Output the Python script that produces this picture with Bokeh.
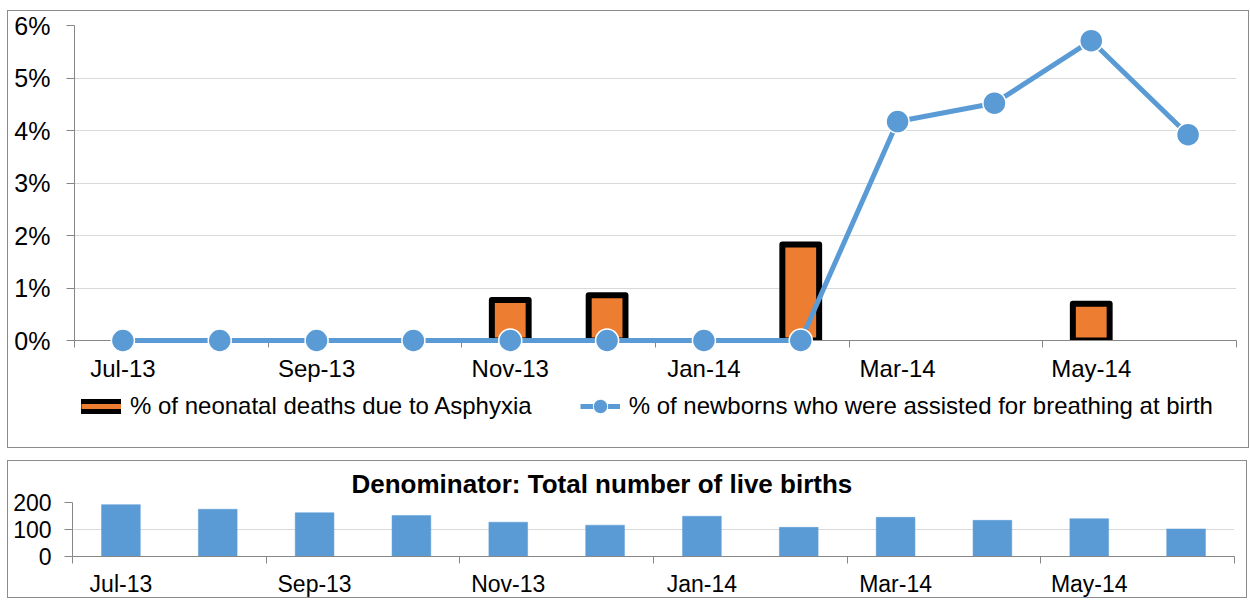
from bokeh.plotting import figure
from bokeh.models import (ColumnDataSource, Range1d, FixedTicker, NumeralTickFormatter,
                          Legend, LegendItem, Title)
from bokeh.layouts import column
from bokeh.embed import file_html
from bokeh.resources import INLINE

# ---------------- data ----------------
months = ["Jul-13", "Aug-13", "Sep-13", "Oct-13", "Nov-13", "Dec-13",
          "Jan-14", "Feb-14", "Mar-14", "Apr-14", "May-14", "Jun-14"]
asphyxia_pct = [None, None, None, None, 0.77, 0.86, None, 1.83, None, None, 0.70, None]
breathing_pct = [0, 0, 0, 0, 0, 0, 0, 0, 4.17, 4.52, 5.71, 3.92]
live_births = [192, 175, 162, 152, 127, 116, 149, 108, 145, 134, 140, 102]
pct_ticks = [0, 1, 2, 3, 4, 5, 6]
births_ticks = [0, 100, 200]

series1_name = "% of neonatal deaths due to Asphyxia"
series2_name = "% of newborns who were assisted for breathing at birth"
bottom_title = "Denominator: Total number of live births"

# ---------------- style ----------------
FONT = "Liberation Sans"
BLUE = "#5b9bd5"
ORANGE = "#ed7d31"
AXIS = "#868686"
GRID = "#d9d9d9"
BORDER = "#8c8c8c"
W = 1240

idx = list(range(len(months)))
src = ColumnDataSource(dict(
    x=idx,
    asph=[(v / 100.0) if v is not None else float("nan") for v in asphyxia_pct],
    breath=[v / 100.0 for v in breathing_pct],
    births=live_births,
))

label_ticks = idx[::2]
boundary_ticks = [i - 0.5 for i in idx[::2]] + [idx[-1] + 0.5]
x_overrides = {i: months[i] for i in label_ticks}


def style_x_axis(ax, standoff, size):
    ax.ticker = FixedTicker(ticks=label_ticks, minor_ticks=boundary_ticks)
    ax.major_label_overrides = x_overrides
    ax.axis_line_color = AXIS
    ax.major_tick_out = 0
    ax.major_tick_in = 0
    ax.minor_tick_out = 7
    ax.minor_tick_in = 0
    ax.minor_tick_line_color = AXIS
    ax.major_label_standoff = standoff
    ax.major_label_text_font = FONT
    ax.major_label_text_font_size = size
    ax.major_label_text_color = "black"


def style_y_axis(ax, ticks, standoff, size):
    ax.ticker = FixedTicker(ticks=ticks)
    ax.axis_line_color = AXIS
    ax.major_tick_line_color = AXIS
    ax.major_tick_out = 8
    ax.major_tick_in = 0
    ax.minor_tick_out = 0
    ax.minor_tick_in = 0
    ax.major_label_standoff = standoff
    ax.major_label_text_font = FONT
    ax.major_label_text_font_size = size
    ax.major_label_text_color = "black"


# ---------------- top chart ----------------
p1 = figure(width=W, height=374, x_range=Range1d(-0.5, len(months) - 0.5),
            y_range=Range1d(0, max(pct_ticks) / 100.0),
            output_backend="svg", toolbar_location=None,
            min_border_left=66, min_border_right=12, min_border_top=14, min_border_bottom=45)
p1.outline_line_color = None

bars = p1.vbar(x="x", top="asph", bottom=0, width=0.38, source=src,
               fill_color=ORANGE, line_color="black", line_width=6, line_join="round")
line = p1.line("x", "breath", source=src, line_color=BLUE, line_width=5, level="overlay")
pts = p1.scatter("x", "breath", source=src, size=23, fill_color=BLUE,
                 line_color="white", line_width=1.5, level="overlay")

style_y_axis(p1.yaxis[0], [v / 100.0 for v in pct_ticks], 16, "25px")
p1.yaxis[0].formatter = NumeralTickFormatter(format="0%")
style_x_axis(p1.xaxis[0], 7, "24px")
p1.xgrid.visible = False
p1.ygrid.grid_line_color = GRID

# ---------------- legend strip (part of the top panel) ----------------
# Same series drawn in a strip whose ranges keep them out of view, so that only
# their legend keys show.
LH = 62
pl = figure(width=W, height=LH, x_range=Range1d(100, 101), y_range=Range1d(100, 101),
            output_backend="svg", toolbar_location=None,
            x_axis_location=None, y_axis_location=None,
            min_border_left=0, min_border_right=0, min_border_top=0, min_border_bottom=0)
pl.outline_line_color = None
pl.grid.visible = False
sw_black = pl.line("x", "asph", source=src, line_color="black", line_width=15, line_cap="square")
sw_orange = pl.line("x", "asph", source=src, line_color=ORANGE, line_width=5)
sw_line = pl.line("x", "breath", source=src, line_color=BLUE, line_width=5)
sw_pts = pl.scatter("x", "breath", source=src, fill_color=BLUE, line_color="white", line_width=1)

leg = Legend(items=[LegendItem(label=series1_name, renderers=[sw_black, sw_orange]),
                    LegendItem(label=series2_name, renderers=[sw_line, sw_pts])],
             location=(7, 23), orientation="horizontal",
             glyph_width=40, glyph_height=36, label_standoff=9, spacing=48,
             padding=0, margin=0, border_line_alpha=0, background_fill_alpha=0,
             label_text_font=FONT, label_text_font_size="24px", label_text_color="black")
pl.add_layout(leg)

top_panel = column(p1, pl, spacing=0, styles={"border": f"1px solid {BORDER}"})

# ---------------- bottom chart ----------------
p2 = figure(width=W, height=138, x_range=Range1d(-0.5, len(months) - 0.5),
            y_range=Range1d(0, max(births_ticks)),
            output_backend="svg", toolbar_location=None,
            min_border_left=64, min_border_right=14, min_border_top=41, min_border_bottom=41)
p2.outline_line_color = None
p2.styles = {"border": f"1px solid {BORDER}"}
p2.title = Title(text=bottom_title, align="left", offset=279, standoff=8,
                 text_font=FONT, text_font_size="26px", text_font_style="bold",
                 text_color="black")

p2.vbar(x="x", top="births", bottom=0, width=0.40, source=src,
        fill_color=BLUE, line_color=BLUE, line_width=0.5)
style_y_axis(p2.yaxis[0], births_ticks, 13, "23px")
style_x_axis(p2.xaxis[0], 7, "23px")
p2.xgrid.visible = False
p2.ygrid.grid_line_color = GRID

layout = column(top_panel, p2, spacing=12, margin=(10, 0, 0, 7))
open("out.html", "w").write(file_html(layout, INLINE))
